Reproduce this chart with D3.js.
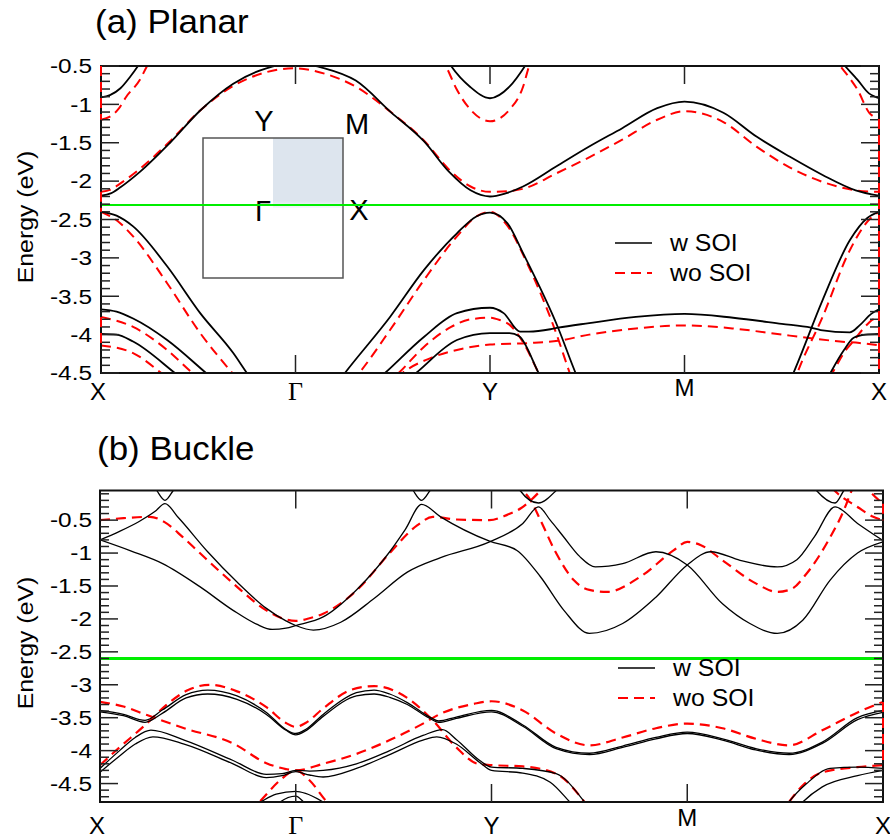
<!DOCTYPE html>
<html>
<head>
<meta charset="utf-8">
<script src="https://cdn.jsdelivr.net/npm/d3@7"></script>
<style>
  body { margin: 0; background: #fff; }
</style>
</head>
<body>
<svg id="chart" width="890" height="840"></svg>
<script>
// ---- k-path and labels ----
const kLabels = ["X", "Γ", "Y", "M", "X"];
const kTicks = [0, 1, 2, 3, 4];
const panelTitles = ["(a) Planar", "(b) Buckle"];
const legendLabels = ["w SOI", "wo SOI"];
const energyTicks = [-0.5, -1, -1.5, -2, -2.5, -3, -3.5, -4, -4.5];
const insetLabels = ["Y", "M", "Γ", "X"];

// ---- energy windows and Fermi levels (eV) ----
const planarRange = [-4.5, -0.5];
const buckleRange = [-4.78, -0.05];
const fermiPlanar = -2.31;
const fermiBuckle = -2.6;

// ---- (a) planar, with SOI: bands as [k, E] ----
const planarSOI = [
  [[0,-0.91],[0.046,-0.88],[0.1,-0.79],[0.15,-0.64],[0.19,-0.5],[0.26,-0.2]],
  [[3.72,-0.2],[3.825,-0.5],[3.89,-0.68],[3.95,-0.86],[3.98,-0.9],[4,-0.92]],
  [[1.73,-0.2],[1.8,-0.5],[1.897,-0.77],[2,-0.92],[2.1,-0.77],[2.18,-0.5],[2.25,-0.2]],
  [[0,-2.19],[0.05,-2.16],[0.1,-2.08],[0.2,-1.88],[0.355,-1.5],[0.51,-1.08],[0.68,-0.73],[0.85,-0.53],[1,-0.47],
   [1.15,-0.53],[1.31,-0.69],[1.49,-1.1],[1.66,-1.48],[1.79,-1.88],[1.9,-2.12],[2,-2.2],[2.08,-2.16],[2.17,-2.07],
   [2.34,-1.81],[2.51,-1.55],[2.68,-1.31],[2.86,-1.05],[3,-0.965],[3.2,-1.11],[3.37,-1.42],[3.54,-1.68],[3.71,-1.92],
   [3.88,-2.12],[4,-2.19]],
  [[0,-2.40],[0.08,-2.45],[0.165,-2.59],[0.34,-3.11],[0.51,-3.72],[0.68,-4.24],[0.75,-4.5],[0.85,-4.85],[1,-5.1],
   [1.15,-4.85],[1.254,-4.5],[1.486,-3.77],[1.66,-3.16],[1.83,-2.68],[1.93,-2.46],[2,-2.41],[2.09,-2.55],[2.17,-2.94],
   [2.35,-3.91],[2.44,-4.5],[2.55,-5.1],[3,-5.6],[3.45,-5.1],[3.56,-4.5],[3.71,-3.55],[3.85,-2.77],[3.94,-2.48],[4,-2.40]],
  [[0,-3.67],[0.08,-3.70],[0.165,-3.79],[0.34,-4.07],[0.54,-4.5],[0.7,-4.85],[1,-5.2],[1.3,-4.85],[1.46,-4.5],
   [1.66,-4.03],[1.83,-3.72],[2,-3.65],[2.07,-3.72],[2.154,-3.96],[2.2,-3.96],[2.31,-3.93],[2.35,-3.91],[2.51,-3.85],
   [2.75,-3.77],[3,-3.73],[3.25,-3.78],[3.5,-3.86],[3.65,-3.91],[3.7,-3.94],[3.85,-3.97],[3.9,-3.88],[3.96,-3.73],[4,-3.67]],
  [[0,-3.99],[0.08,-4.0],[0.165,-4.09],[0.38,-4.5],[0.55,-4.85],[1,-5.4],[1.45,-4.85],[1.62,-4.5],[1.83,-4.07],
   [2,-3.98],[2.1,-3.98],[2.15,-4.02],[2.25,-4.5],[2.35,-5.0],[3,-5.6],[3.65,-5.0],[3.75,-4.5],[3.82,-4.2],
   [3.87,-4.04],[3.93,-4.0],[4,-3.99]]
];

// ---- (a) planar, without SOI ----
const planarNoSOI = [
  [[0,-1.2],[0.046,-1.16],[0.09,-1.06],[0.13,-0.9],[0.2,-0.68],[0.235,-0.51],[0.3,-0.25],[0.4,0.2]],
  [[3.7,-0.2],[3.8,-0.5],[3.85,-0.66],[3.89,-0.81],[3.95,-1.11],[3.98,-1.17],[4,-1.19]],
  [[1.7,-0.2],[1.775,-0.51],[1.83,-0.81],[1.9,-1.07],[2,-1.22],[2.1,-1.07],[2.17,-0.77],[2.2,-0.51],[2.28,-0.2]],
  [[0,-2.14],[0.05,-2.11],[0.1,-2.03],[0.2,-1.84],[0.355,-1.48],[0.51,-1.08],[0.68,-0.76],[0.85,-0.58],[1,-0.53],
   [1.15,-0.6],[1.31,-0.77],[1.49,-1.1],[1.66,-1.47],[1.79,-1.85],[1.9,-2.07],[2,-2.14],[2.1,-2.13],[2.17,-2.1],
   [2.34,-1.9],[2.51,-1.69],[2.68,-1.46],[2.86,-1.2],[3,-1.09],[3.2,-1.23],[3.37,-1.55],[3.54,-1.82],[3.71,-2.01],
   [3.88,-2.12],[4,-2.14]],
  [[0,-2.40],[0.08,-2.51],[0.165,-2.72],[0.34,-3.33],[0.51,-3.98],[0.675,-4.5],[0.85,-5.0],[1,-5.2],[1.15,-5.0],
   [1.34,-4.46],[1.486,-3.94],[1.66,-3.29],[1.83,-2.72],[1.93,-2.46],[2,-2.40],[2.08,-2.55],[2.2,-3.12],[2.34,-3.98],
   [2.41,-4.5],[2.5,-5.1],[3,-5.6],[3.5,-5.1],[3.58,-4.5],[3.71,-3.77],[3.85,-2.9],[3.95,-2.5],[4,-2.40]],
  [[0,-3.77],[0.165,-3.9],[0.34,-4.2],[0.47,-4.5],[0.65,-4.85],[1,-5.3],[1.35,-4.85],[1.53,-4.5],[1.66,-4.16],
   [1.8,-3.9],[1.9,-3.8],[2,-3.78],[2.05,-3.81],[2.1,-3.87],[2.17,-4.1],[2.25,-4.5],[2.35,-5.0],[3,-5.6],[3.65,-5.0],
   [3.76,-4.5],[3.83,-4.2],[3.87,-4.08],[3.92,-3.92],[3.97,-3.8],[4,-3.78]],
  [[0,-4.14],[0.165,-4.24],[0.31,-4.5],[0.5,-4.9],[1,-5.5],[1.4,-4.9],[1.55,-4.5],[1.7,-4.3],[1.83,-4.2],[2,-4.13],
   [2.2,-4.11],[2.35,-4.08],[2.51,-4.0],[2.75,-3.92],[3,-3.88],[3.25,-3.92],[3.5,-4.0],[3.66,-4.05],[3.8,-4.09],
   [3.9,-4.11],[4,-4.14]]
];

// ---- (b) buckle, with SOI ----
const buckleSOI = [
  [[0,-0.8],[0.1,-0.67],[0.2,-0.52],[0.28,-0.37],[0.332,-0.25],[0.4,-0.46],[0.55,-0.98],[0.7,-1.44],[0.85,-1.84],
   [0.95,-2.03],[1.0,-2.1],[1.09,-2.17],[1.23,-2.05],[1.4,-1.69],[1.57,-1.29],[1.74,-1.07],[1.99,-0.83],[2.16,-0.55],
   [2.24,-0.3],[2.3,-0.5],[2.37,-0.76],[2.45,-1.05],[2.53,-1.21],[2.67,-1.16],[2.84,-0.98],[3.0,-1.18],[3.18,-1.77],
   [3.32,-2.07],[3.46,-2.22],[3.59,-2.02],[3.73,-1.41],[3.87,-1.0],[4.0,-0.83]],
  [[0,-0.8],[0.16,-0.97],[0.32,-1.16],[0.51,-1.51],[0.68,-1.87],[0.8,-2.08],[0.88,-2.16],[0.95,-2.14],[1.0,-2.1],
   [1.14,-1.97],[1.31,-1.56],[1.48,-0.98],[1.56,-0.64],[1.643,-0.26],[1.74,-0.45],[1.99,-0.82],[2.13,-0.96],
   [2.25,-1.36],[2.37,-1.87],[2.5,-2.22],[2.67,-2.07],[2.84,-1.67],[3.0,-1.18],[3.12,-0.98],[3.27,-1.11],[3.46,-1.21],
   [3.56,-1.1],[3.65,-0.75],[3.755,-0.3],[3.87,-0.55],[4.0,-0.81]],
  [[0,0.5],[0.25,0.15],[0.29,-0.05],[0.332,-0.2],[0.374,-0.05],[0.42,0.15],[1.0,0.8],[1.56,0.15],[1.6,-0.05],
   [1.643,-0.2],[1.686,-0.05],[1.73,0.15],[1.95,0.4],[2.1,0.2],[2.146,-0.05],[2.24,-0.24],[2.33,-0.05],[2.4,0.2],
   [3.0,0.8],[3.6,0.2],[3.66,-0.05],[3.755,-0.24],[3.8,-0.05],[3.86,0.2],[4,0.5]],
  [[0,-3.39],[0.12,-3.45],[0.23,-3.54],[0.32,-3.38],[0.44,-3.15],[0.55,-3.08],[0.7,-3.17],[0.85,-3.42],[0.95,-3.68],
   [1.0,-3.74],[1.05,-3.68],[1.14,-3.45],[1.31,-3.12],[1.4,-3.08],[1.48,-3.14],[1.57,-3.27],[1.69,-3.5],[1.73,-3.55],
   [1.82,-3.49],[2.0,-3.39],[2.16,-3.61],[2.33,-3.95],[2.5,-4.04],[2.67,-3.93],[2.84,-3.8],[3.0,-3.72],[3.18,-3.82],
   [3.35,-3.97],[3.52,-4.04],[3.69,-3.87],[3.87,-3.5],[4.0,-3.39]],
  [[0,-3.41],[0.12,-3.47],[0.23,-3.57],[0.32,-3.43],[0.44,-3.2],[0.55,-3.14],[0.7,-3.22],[0.85,-3.45],[0.95,-3.69],
   [1.0,-3.76],[1.05,-3.7],[1.14,-3.48],[1.31,-3.17],[1.4,-3.14],[1.48,-3.19],[1.57,-3.3],[1.69,-3.52],[1.73,-3.57],
   [1.82,-3.51],[2.0,-3.41],[2.16,-3.63],[2.33,-3.97],[2.5,-4.06],[2.67,-3.95],[2.84,-3.82],[3.0,-3.74],[3.18,-3.84],
   [3.35,-3.99],[3.52,-4.06],[3.69,-3.89],[3.87,-3.53],[4.0,-3.42]],
  [[0,-4.27],[0.1,-4.0],[0.18,-3.8],[0.26,-3.69],[0.43,-3.84],[0.68,-4.15],[0.85,-4.36],[0.93,-4.35],[1.0,-4.3],
   [1.07,-4.31],[1.14,-4.3],[1.31,-4.2],[1.48,-4.0],[1.65,-3.77],[1.75,-3.68],[1.82,-3.83],[1.94,-4.15],[2.0,-4.25],
   [2.16,-4.27],[2.33,-4.35],[2.47,-4.76],[2.55,-5.1],[3.0,-5.5],[3.45,-5.1],[3.52,-4.78],[3.61,-4.5],[3.73,-4.27],
   [3.87,-4.25],[4.0,-4.27]],
  [[0,-4.33],[0.1,-4.08],[0.18,-3.9],[0.27,-3.79],[0.43,-3.9],[0.68,-4.2],[0.85,-4.41],[0.93,-4.38],[1.0,-4.32],
   [1.07,-4.37],[1.14,-4.4],[1.31,-4.27],[1.48,-4.06],[1.65,-3.84],[1.72,-3.79],[1.82,-3.9],[1.94,-4.18],[2.0,-4.3],
   [2.16,-4.34],[2.3,-4.48],[2.4,-4.78],[2.5,-5.1],[3.0,-5.5],[3.5,-5.1],[3.59,-4.78],[3.69,-4.55],[3.87,-4.38],[4.0,-4.3]],
  [[0.7,-5.0],[0.82,-4.78],[0.9,-4.66],[1.0,-4.62],[1.05,-4.65],[1.14,-4.78],[1.25,-5.0]],
  [[0.85,-5.0],[0.92,-4.78],[1.0,-4.69],[1.04,-4.78],[1.1,-5.0]]
];

// ---- (b) buckle, without SOI ----
const buckleNoSOI = [
  [[0,-0.5],[0.12,-0.47],[0.255,-0.45],[0.33,-0.53],[0.42,-0.75],[0.51,-1.0],[0.68,-1.46],[0.85,-1.87],[0.93,-1.99],
   [1.0,-2.03],[1.07,-1.99],[1.14,-1.92],[1.31,-1.57],[1.48,-1.0],[1.62,-0.58],[1.7,-0.45],[1.82,-0.49],[1.99,-0.5],
   [2.08,-0.42],[2.15,-0.32],[2.2,-0.2],[2.26,-0.02],[2.35,0.3],[3.0,0.8],[3.65,0.3],[3.72,0.05],[3.77,-0.1],
   [3.87,-0.3],[3.95,-0.45],[4,-0.5]],
  [[2.0,0.4],[2.1,0.1],[2.16,-0.05],[2.2,-0.2],[2.25,-0.5],[2.33,-1.0],[2.42,-1.41],[2.5,-1.56],[2.59,-1.59],
   [2.76,-1.36],[2.93,-0.96],[3.0,-0.83],[3.07,-0.88],[3.18,-1.11],[3.35,-1.46],[3.46,-1.59],[3.53,-1.55],[3.61,-1.31],
   [3.73,-0.76],[3.8,-0.35],[3.84,-0.05],[3.9,0.3]],
  [[3.85,0.3],[3.93,-0.05],[4,-0.25]],
  [[0,-3.26],[0.12,-3.33],[0.24,-3.46],[0.43,-3.66],[0.68,-3.89],[0.85,-4.19],[0.95,-4.28],[1.0,-4.3],[1.14,-4.2],
   [1.31,-4.05],[1.48,-3.84],[1.65,-3.59],[1.74,-3.44],[1.91,-3.29],[2.0,-3.25],[2.16,-3.39],[2.33,-3.74],[2.5,-3.92],
   [2.67,-3.8],[2.84,-3.66],[3.0,-3.59],[3.18,-3.66],[3.35,-3.82],[3.52,-3.92],[3.69,-3.69],[3.87,-3.42],[4.0,-3.26]],
  [[0,-4.22],[0.1,-3.95],[0.22,-3.64],[0.35,-3.28],[0.45,-3.08],[0.56,-3.0],[0.7,-3.1],[0.85,-3.34],[0.95,-3.58],
   [1.0,-3.64],[1.05,-3.58],[1.14,-3.36],[1.28,-3.08],[1.4,-3.02],[1.57,-3.2],[1.7,-3.54],[1.82,-3.95],[1.93,-4.2],
   [2.0,-4.22],[2.16,-4.24],[2.33,-4.35],[2.47,-4.76],[2.55,-5.1],[3.0,-5.5],[3.45,-5.1],[3.52,-4.78],[3.6,-4.5],
   [3.69,-4.33],[3.87,-4.25],[4.0,-4.22]],
  [[0.7,-5.1],[0.82,-4.76],[0.92,-4.45],[1.0,-4.3],[1.07,-4.45],[1.16,-4.78],[1.3,-5.1]]
];

// joins between band ends along the zone boundary: [k, E from, E to]
const planarRedEdges = [[0,-0.5,-1.2],[0,-2.14,-2.40],[0,-3.77,-4.14],[4,-1.19,-4.5]];
const buckleRedEdges = [[4,-0.25,-0.5],[4,-3.26,-4.22]];

// ---- drawing ----
const SANS = "'Liberation Sans', Arial, Helvetica, sans-serif";
const SERIF = "'Liberation Serif', 'Times New Roman', serif";
const svg = d3.select("#chart");

function addText(g, str, x, y, o) {
  let tr = `translate(${x},${y})`;
  if (o.rotate) tr += ` rotate(${o.rotate})`;
  tr += ` scale(${o.sx || 1},1)`;
  return g.append("text")
    .attr("transform", tr)
    .attr("text-anchor", o.anchor || "start")
    .attr("font-family", o.family || SANS)
    .attr("font-size", o.fs)
    .attr("fill", "#000")
    .text(str);
}

const panels = [
  { id: "a", title: panelTitles[0], titleX: 95, titleY: 33, x0: 101, x1: 879, yTop: 66, yBot: 373,
    dom: planarRange, soi: planarSOI, nosoi: planarNoSOI, edges: planarRedEdges,
    fermi: fermiPlanar, fermiW: 2, blackW: 1.8, redW: 2,
    legX: 615, legY: 243, legTX: 670, labelBase: 400, mLift: 4, yTitleY: 217, inset: true },
  { id: "b", title: panelTitles[1], titleX: 97, titleY: 460, x0: 100, x1: 883, yTop: 490.5, yBot: 802,
    dom: buckleRange, soi: buckleSOI, nosoi: buckleNoSOI, edges: buckleRedEdges,
    fermi: fermiBuckle, fermiW: 3, blackW: 1.3, redW: 2.2,
    legX: 618, legY: 668, legTX: 673, labelBase: 834, mLift: 8, yTitleY: 643, inset: false }
];

const defs = svg.append("defs");
const grad = defs.append("linearGradient").attr("id", "shadeFade")
  .attr("x1", 0).attr("y1", 0).attr("x2", 0).attr("y2", 1);
grad.append("stop").attr("offset", "0.9").attr("stop-color", "#dde5ee").attr("stop-opacity", 1);
grad.append("stop").attr("offset", "1").attr("stop-color", "#dde5ee").attr("stop-opacity", 0.2);

panels.forEach(p => {
  const x = d3.scaleLinear().domain([0, 4]).range([p.x0, p.x1]);
  const y = d3.scaleLinear().domain(p.dom).range([p.yBot, p.yTop]);
  const g = svg.append("g");

  defs.append("clipPath").attr("id", "clip-" + p.id)
    .append("rect").attr("x", p.x0).attr("y", p.yTop)
    .attr("width", p.x1 - p.x0).attr("height", p.yBot - p.yTop);

  // title
  addText(g, p.title, p.titleX, p.titleY, { fs: 33, sx: 1.06 });

  // inset Brillouin zone
  if (p.inset) {
    const bx = 203, by = 138, bs = 140;
    g.append("rect").attr("x", bx + bs / 2).attr("y", by).attr("width", bs / 2).attr("height", bs / 2)
      .attr("fill", "url(#shadeFade)");
    g.append("rect").attr("x", bx).attr("y", by).attr("width", bs).attr("height", bs)
      .attr("fill", "none").attr("stroke", "#555").attr("stroke-width", 1.5);
    addText(g, insetLabels[0], 264, 131, { fs: 29, anchor: "middle" });
    addText(g, insetLabels[1], 357, 134, { fs: 29, anchor: "middle" });
    addText(g, insetLabels[2], 263, 221, { fs: 29, anchor: "middle" });
    addText(g, insetLabels[3], 359, 220, { fs: 29, anchor: "middle" });
  }

  const plot = g.append("g").attr("clip-path", `url(#clip-${p.id})`);

  // Fermi level
  plot.append("line").attr("x1", p.x0).attr("x2", p.x1)
    .attr("y1", y(p.fermi)).attr("y2", y(p.fermi))
    .attr("stroke", "#00ee00").attr("stroke-width", p.fermiW);

  const line = d3.line().x(d => x(d[0])).y(d => y(d[1])).curve(d3.curveMonotoneX);

  plot.selectAll("path.nosoi").data(p.nosoi).join("path").attr("class", "nosoi")
    .attr("d", line).attr("fill", "none").attr("stroke", "#ff0000")
    .attr("stroke-width", p.redW).attr("stroke-dasharray", "10,6");

  plot.selectAll("path.soi").data(p.soi).join("path").attr("class", "soi")
    .attr("d", line).attr("fill", "none").attr("stroke", "#000")
    .attr("stroke-width", p.blackW);

  // frame
  g.append("rect").attr("x", p.x0).attr("y", p.yTop)
    .attr("width", p.x1 - p.x0).attr("height", p.yBot - p.yTop)
    .attr("fill", "none").attr("stroke", "#111").attr("stroke-width", 2);

  // energy ticks, inward on both sides
  const minor = d3.range(-48, 0).map(i => i / 10)
    .filter(v => v >= p.dom[0] - 1e-9 && v <= p.dom[1] + 1e-9 && Math.abs(v * 2 - Math.round(v * 2)) > 1e-6);
  const tickG = g.append("g").attr("stroke", "#222").attr("stroke-width", 1.5);
  [[p.x0, 1], [p.x1, -1]].forEach(([ax, dir]) => {
    energyTicks.forEach(v => {
      tickG.append("line").attr("x1", ax).attr("x2", ax + dir * 18)
        .attr("y1", y(v)).attr("y2", y(v));
    });
    minor.forEach(v => {
      tickG.append("line").attr("x1", ax).attr("x2", ax + dir * 9)
        .attr("y1", y(v)).attr("y2", y(v));
    });
  });
  energyTicks.forEach(v => {
    addText(g, String(v), 92, y(v) + 7.3, { fs: 20.5, sx: 1.19, anchor: "end" });
  });

  // k-path ticks at interior symmetry points
  kTicks.slice(1, -1).forEach(k => {
    tickG.append("line").attr("x1", x(k)).attr("x2", x(k)).attr("y1", p.yBot).attr("y2", p.yBot - 18);
    tickG.append("line").attr("x1", x(k)).attr("x2", x(k)).attr("y1", p.yTop).attr("y2", p.yTop + 18);
  });
  kTicks.forEach((k, i) => {
    const lbl = kLabels[i];
    const isGamma = lbl === "Γ";
    const base = p.labelBase - (lbl === "M" ? p.mLift : 0);
    addText(g, lbl, x(k) - (i === 0 ? 3 : 0), base,
      { fs: isGamma ? 26 : 24, anchor: "middle", family: isGamma ? SERIF : SANS });
  });

  // axis title
  addText(g, "Energy (eV)", 33, p.yTitleY, { fs: 22, sx: 1.13, rotate: -90, anchor: "middle" });

  // boundary joins of the no-SOI bands
  p.edges.forEach(([k, e1, e2]) => {
    g.append("line").attr("x1", x(k)).attr("x2", x(k))
      .attr("y1", y(Math.min(e1, p.dom[1]))).attr("y2", y(Math.max(e2, p.dom[0])))
      .attr("stroke", "#ff0000").attr("stroke-width", 2).attr("stroke-dasharray", "10,6");
  });

  // legend
  const lg = g.append("g");
  lg.append("line").attr("x1", p.legX).attr("x2", p.legX + 37).attr("y1", p.legY).attr("y2", p.legY)
    .attr("stroke", "#000").attr("stroke-width", 1.5);
  lg.append("line").attr("x1", p.legX).attr("x2", p.legX + 37).attr("y1", p.legY + 30).attr("y2", p.legY + 30)
    .attr("stroke", "#ff0000").attr("stroke-width", 2).attr("stroke-dasharray", "10,6");
  addText(lg, legendLabels[0], p.legTX, p.legY + 8, { fs: 23, sx: 1.08 });
  addText(lg, legendLabels[1], p.legTX, p.legY + 38, { fs: 23, sx: 1.08 });
});
</script>
</body>
</html>
